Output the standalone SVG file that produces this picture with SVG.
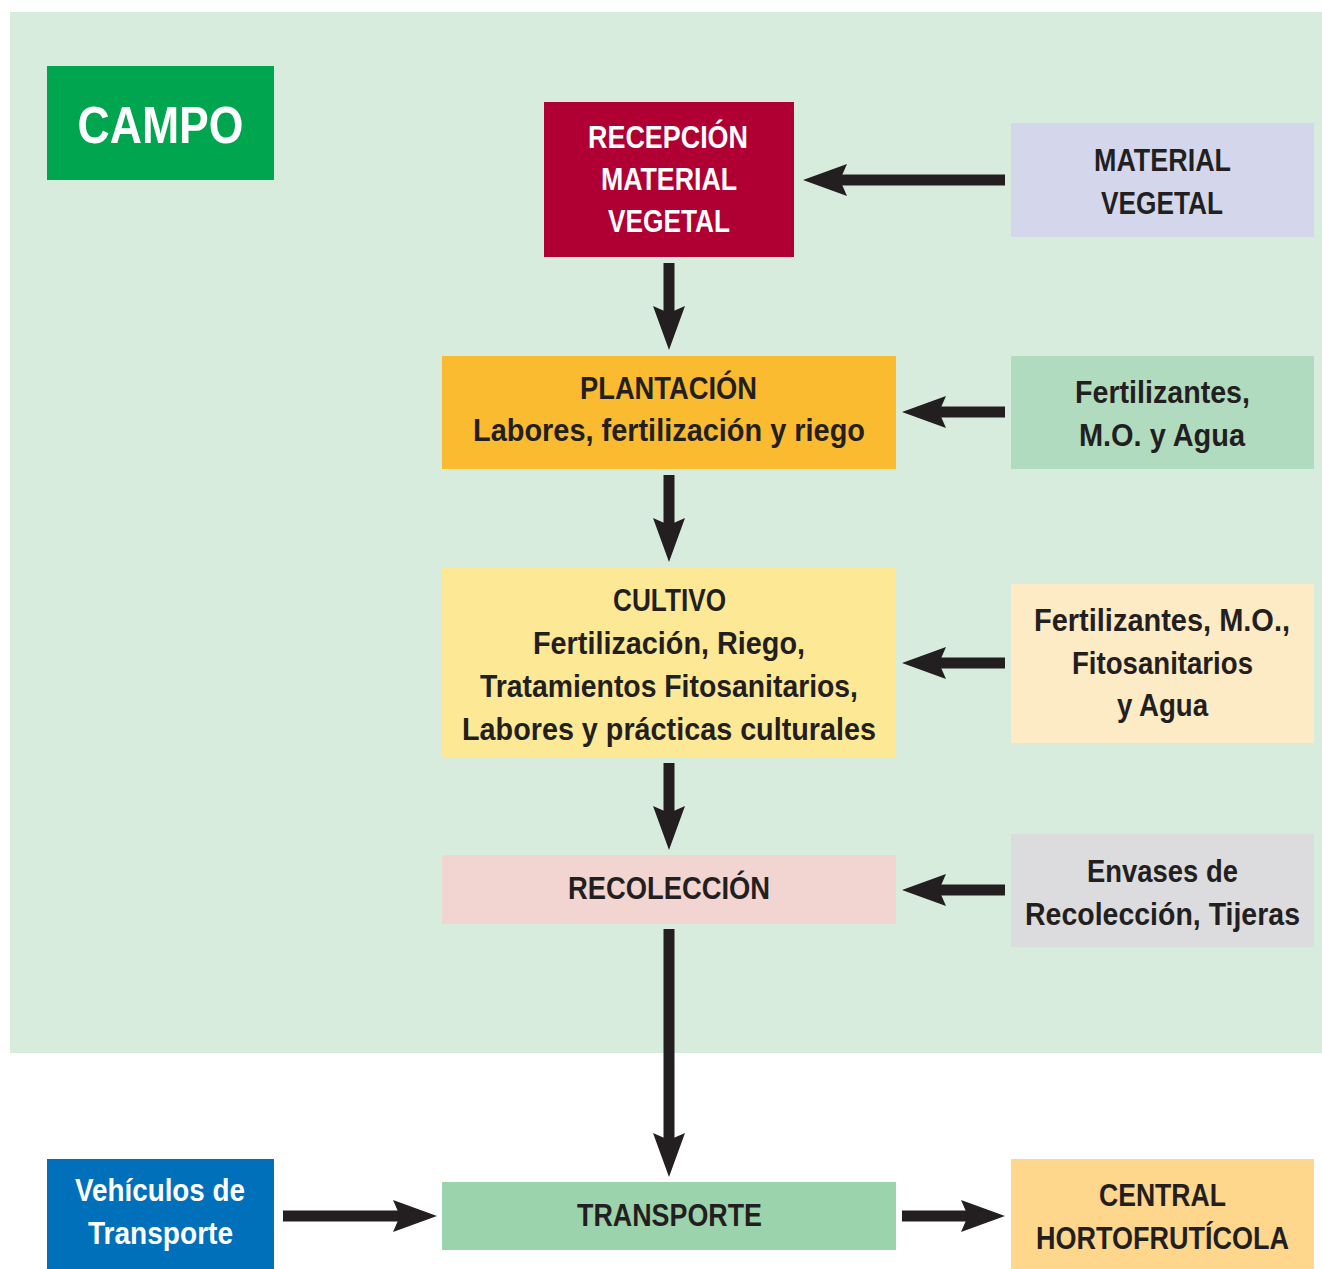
<svg xmlns="http://www.w3.org/2000/svg" width="1322" height="1269" viewBox="0 0 1322 1269">
<style>
text{font-family:"Liberation Sans",Arial,sans-serif;font-weight:bold;font-size:30.5px;fill:#231f20;text-anchor:middle}
.w{fill:#ffffff}
.big{font-size:52px}
.c{stroke:#231f20;stroke-width:11;fill:none}
</style>
<defs>
<marker id="ah" viewBox="0 -16 44 32" refX="8" refY="0" markerWidth="44" markerHeight="32" markerUnits="userSpaceOnUse" orient="auto">
<path d="M0,-16 L44,0 L0,16 L7,0 Z" fill="#231f20"/>
</marker>
</defs>
<rect x="0" y="0" width="1322" height="1269" fill="#ffffff"/>
<rect id="campo-bg" x="10" y="12" width="1312" height="1041" fill="#d8ecdd"/>
<g id="campo">
<rect x="47" y="66" width="227" height="114" fill="#00a54f"/>
<text class="w big" x="160.5" y="143" textLength="166" lengthAdjust="spacingAndGlyphs">CAMPO</text>
</g>
<g id="recepcion">
<rect x="544" y="102" width="250" height="155" fill="#b00033"/>
<text class="w" x="668" y="148" textLength="160" lengthAdjust="spacingAndGlyphs">RECEPCIÓN</text>
<text class="w" x="669" y="190" textLength="136" lengthAdjust="spacingAndGlyphs">MATERIAL</text>
<text class="w" x="669" y="232" textLength="122" lengthAdjust="spacingAndGlyphs">VEGETAL</text>
</g>
<g id="material">
<rect x="1011" y="123" width="303" height="114" fill="#d4d7ec"/>
<text x="1162.5" y="171" textLength="137" lengthAdjust="spacingAndGlyphs">MATERIAL</text>
<text x="1162" y="214" textLength="122" lengthAdjust="spacingAndGlyphs">VEGETAL</text>
</g>
<g id="plantacion">
<rect x="442" y="356" width="454" height="113" fill="#fbbb30"/>
<text x="668.5" y="399" textLength="177" lengthAdjust="spacingAndGlyphs">PLANTACIÓN</text>
<text x="669" y="441" textLength="392" lengthAdjust="spacingAndGlyphs">Labores, fertilización y riego</text>
</g>
<g id="fertilizantes1">
<rect x="1011" y="356" width="303" height="113" fill="#b0dbbf"/>
<text x="1162.5" y="403" textLength="175" lengthAdjust="spacingAndGlyphs">Fertilizantes,</text>
<text x="1162" y="446" textLength="166" lengthAdjust="spacingAndGlyphs">M.O. y Agua</text>
</g>
<g id="cultivo">
<rect x="442" y="568" width="454" height="189" fill="#fde995"/>
<text x="669.5" y="611" textLength="113" lengthAdjust="spacingAndGlyphs">CULTIVO</text>
<text x="669" y="654" textLength="272" lengthAdjust="spacingAndGlyphs">Fertilización, Riego,</text>
<text x="669" y="697" textLength="378" lengthAdjust="spacingAndGlyphs">Tratamientos Fitosanitarios,</text>
<text x="669" y="740" textLength="414" lengthAdjust="spacingAndGlyphs">Labores y prácticas culturales</text>
</g>
<g id="fertilizantes2">
<rect x="1011" y="584" width="303" height="159" fill="#fdebc5"/>
<text x="1162" y="631" textLength="256" lengthAdjust="spacingAndGlyphs">Fertilizantes, M.O.,</text>
<text x="1162.5" y="674" textLength="181" lengthAdjust="spacingAndGlyphs">Fitosanitarios</text>
<text x="1162.5" y="716" textLength="91" lengthAdjust="spacingAndGlyphs">y Agua</text>
</g>
<g id="recoleccion">
<rect x="442" y="855" width="454" height="69" fill="#f2d4d0"/>
<text x="669" y="899" textLength="202" lengthAdjust="spacingAndGlyphs">RECOLECCIÓN</text>
</g>
<g id="envases">
<rect x="1011" y="834" width="303" height="113" fill="#dcdcde"/>
<text x="1162.5" y="882" textLength="151" lengthAdjust="spacingAndGlyphs">Envases de</text>
<text x="1162.5" y="925" textLength="275" lengthAdjust="spacingAndGlyphs">Recolección, Tijeras</text>
</g>
<g id="transporte">
<rect x="442" y="1182" width="454" height="68" fill="#9bd3ac"/>
<text x="669.5" y="1226" textLength="185" lengthAdjust="spacingAndGlyphs">TRANSPORTE</text>
</g>
<g id="vehiculos">
<rect x="47" y="1159" width="227" height="110" fill="#0070bb"/>
<text class="w" x="160" y="1201" textLength="170" lengthAdjust="spacingAndGlyphs">Vehículos de</text>
<text class="w" x="160.5" y="1244" textLength="145" lengthAdjust="spacingAndGlyphs">Transporte</text>
</g>
<g id="central">
<rect x="1011" y="1159" width="303" height="110" fill="#fed68c"/>
<text x="1162.5" y="1206" textLength="127" lengthAdjust="spacingAndGlyphs">CENTRAL</text>
<text x="1162.5" y="1249" textLength="253" lengthAdjust="spacingAndGlyphs">HORTOFRUTÍCOLA</text>
</g>
<g id="connectors">
<line class="c" x1="1005" y1="180" x2="839" y2="180" marker-end="url(#ah)"/>
<line class="c" x1="669" y1="263" x2="669" y2="314" marker-end="url(#ah)"/>
<line class="c" x1="1005" y1="412" x2="938" y2="412" marker-end="url(#ah)"/>
<line class="c" x1="669" y1="475" x2="669" y2="526" marker-end="url(#ah)"/>
<line class="c" x1="1005" y1="663" x2="938" y2="663" marker-end="url(#ah)"/>
<line class="c" x1="669" y1="763" x2="669" y2="814" marker-end="url(#ah)"/>
<line class="c" x1="1005" y1="890" x2="938" y2="890" marker-end="url(#ah)"/>
<line class="c" x1="669" y1="929" x2="669" y2="1141" marker-end="url(#ah)"/>
<line class="c" x1="283" y1="1216" x2="401" y2="1216" marker-end="url(#ah)"/>
<line class="c" x1="902" y1="1216" x2="969" y2="1216" marker-end="url(#ah)"/>
</g>
</svg>
